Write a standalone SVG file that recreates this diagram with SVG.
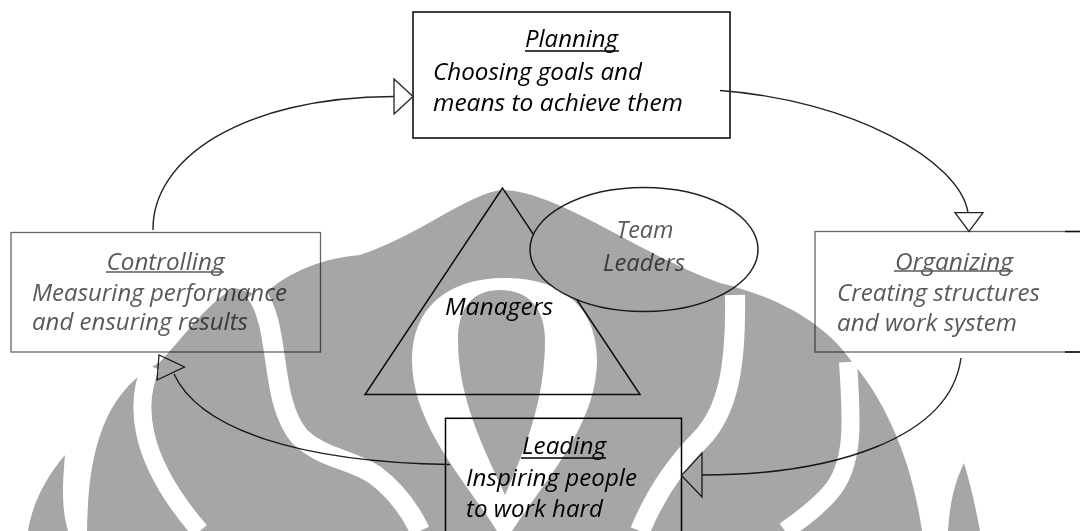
<svg xmlns="http://www.w3.org/2000/svg" width="1080" height="531" viewBox="0 0 1080 531">
  <style>
    .lbl { font-family: "Open Sans", "Noto Sans", "DejaVu Sans", sans-serif; font-style: italic; font-size: 23px; }
    .dark { fill: #000; }
    .soft { fill: #595959; }
    .ul-dark { stroke: #000; stroke-width: 1.5; }
    .ul-soft { stroke: #595959; stroke-width: 1.5; }
    .box-dark { fill: #fff; stroke: #000; stroke-width: 1.5; }
    .box-soft { fill: #fff; stroke: #666; stroke-width: 1.3; }
    .conn { fill: none; stroke: #222; stroke-width: 1.4; }
    .head { fill: #fff; stroke: #222; stroke-width: 1.3; stroke-linejoin: miter; }
    .shape { fill: none; stroke: #111; stroke-width: 1.5; }
    .mark { fill: #a6a6a6; }
    .gap { fill: none; stroke: #fff; }
  </style>
  <rect width="1080" height="531" fill="#fff"/>

  <!-- centre: managers pyramid with team leaders -->
  <g id="managers">
    <polygon class="shape" points="502.5,188 365,394.5 640,394.5"/>
    <text class="lbl dark" x="445" y="315" textLength="108" lengthAdjust="spacingAndGlyphs">Managers</text>
  </g>
  <g id="team-leaders">
    <ellipse cx="644" cy="249.5" rx="114" ry="62" fill="#fff" stroke="#222" stroke-width="1.5"/>
    <text class="lbl soft" x="645" y="238" text-anchor="middle" textLength="57" lengthAdjust="spacingAndGlyphs">Team</text>
    <text class="lbl soft" x="644" y="271" text-anchor="middle" textLength="82" lengthAdjust="spacingAndGlyphs">Leaders</text>
  </g>

  <!-- management functions -->
  <g id="planning">
    <rect class="box-dark" x="413" y="12" width="317" height="126"/>
    <text class="lbl dark" x="571.5" y="47" text-anchor="middle" textLength="93" lengthAdjust="spacingAndGlyphs">Planning</text>
    <line class="ul-dark" x1="525" y1="51" x2="619" y2="51"/>
    <text class="lbl dark" x="433" y="80" textLength="209" lengthAdjust="spacingAndGlyphs">Choosing goals and</text>
    <text class="lbl dark" x="433" y="110.5" textLength="250" lengthAdjust="spacingAndGlyphs">means to achieve them</text>
  </g>
  <g id="organizing">
    <rect class="box-soft" x="815" y="231.5" width="280" height="120.5"/>
    <line x1="1065" y1="231.5" x2="1080" y2="231.5" stroke="#111" stroke-width="1.5"/>
    <line x1="1065" y1="352" x2="1080" y2="352" stroke="#111" stroke-width="1.5"/>
    <text class="lbl soft" x="954" y="269.5" text-anchor="middle" textLength="118" lengthAdjust="spacingAndGlyphs">Organizing</text>
    <line class="ul-soft" x1="894" y1="271" x2="1013" y2="271"/>
    <text class="lbl soft" x="837" y="301" textLength="203" lengthAdjust="spacingAndGlyphs">Creating structures</text>
    <text class="lbl soft" x="837" y="331" textLength="180" lengthAdjust="spacingAndGlyphs">and work system</text>
  </g>
  <g id="leading">
    <rect class="box-dark" x="445.5" y="418.3" width="236" height="130"/>
    <text class="lbl dark" x="564" y="454" text-anchor="middle" textLength="84" lengthAdjust="spacingAndGlyphs">Leading</text>
    <line class="ul-dark" x1="521" y1="458" x2="606" y2="458"/>
    <text class="lbl dark" x="466" y="486" textLength="171" lengthAdjust="spacingAndGlyphs">Inspiring people</text>
    <text class="lbl dark" x="466" y="517" textLength="137" lengthAdjust="spacingAndGlyphs">to work hard</text>
  </g>
  <g id="controlling">
    <rect class="box-soft" x="11" y="232.5" width="309.5" height="119.5"/>
    <text class="lbl soft" x="165.5" y="270" text-anchor="middle" textLength="118" lengthAdjust="spacingAndGlyphs">Controlling</text>
    <line class="ul-soft" x1="106" y1="272" x2="224" y2="272"/>
    <text class="lbl soft" x="32" y="301" textLength="255" lengthAdjust="spacingAndGlyphs">Measuring performance</text>
    <text class="lbl soft" x="32" y="330" textLength="216" lengthAdjust="spacingAndGlyphs">and ensuring results</text>
  </g>

  <!-- cycle connectors -->
  <g id="connectors">
    <path class="conn" d="M153,230 C152,160 240,97 394,96.5"/>
    <polygon class="head" points="394,79 413,96.5 394,114"/>
    <path class="conn" d="M720,90.5 C850,100 960,160 968,212.7"/>
    <polygon class="head" points="955,212.7 983,212.7 969,231.5"/>
    <path class="conn" d="M961,358 C950,440 830,475 702,475"/>
    <polygon class="head" points="702,453 702,497 681.5,475.5"/>
    <path class="conn" d="M450,464.5 C300,462 200,430 174,374"/>
    <polygon class="head" points="159,355 157,380 184.5,367"/>
  </g>

  <!-- faint emblem printed over the page -->
  <g id="emblem" style="mix-blend-mode:multiply">
    <path class="mark" d="M87,531 C88,460 100,400 150,368 L160,362 C185,335 210,300 235,288 L262,296 C290,270 325,258 360,255 C420,235 470,192 503,190 C560,192 640,255 720,283 C790,300 830,330 852,362 C885,400 912,460 922,531 Z"/>
    <path class="mark" d="M28,531 C33,500 48,475 65,455 C62,490 62,510 68,531 Z"/>
    <path class="mark" d="M948,531 C950,500 955,482 964,463 C972,490 976,510 980,531 Z"/>
    <path class="gap" stroke-width="18" d="M151,366 C136,400 134,455 200,531"/>
    <path class="gap" stroke-width="20" d="M255,292 C282,325 268,400 300,437 C325,460 350,458 375,475 C395,490 410,510 420,531"/>
    <path class="gap" stroke-width="20" d="M735,295 C736,360 730,410 700,440 C675,465 655,495 640,531"/>
    <path class="gap" stroke-width="18" d="M848,362 C852,420 855,465 830,493 C815,510 800,520 785,531"/>
    <path fill="#fff" fill-rule="evenodd" d="M505,278 C565,278 597,310 597,360 C597,425 545,480 512,531 L497,531 C465,480 412,425 412,360 C412,310 445,278 505,278 Z M500,290 C525,290 545,305 545,340 C545,400 525,450 505,495 C485,450 458,400 458,340 C458,305 475,290 500,290 Z"/>
  </g>
</svg>
